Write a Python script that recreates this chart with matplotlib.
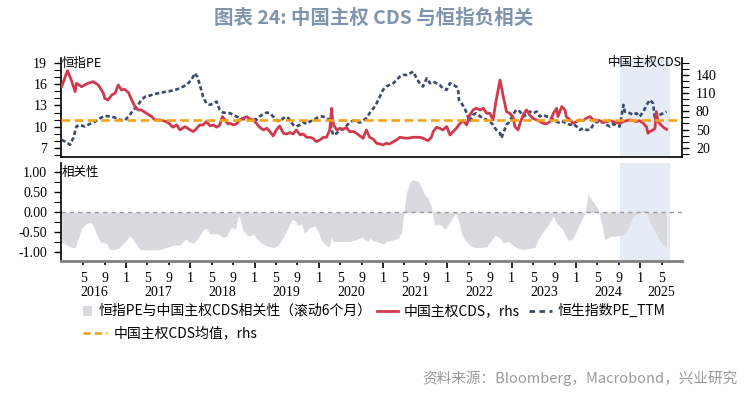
import numpy as np
import matplotlib
matplotlib.use("Agg")
import matplotlib.pyplot as plt
import matplotlib.transforms as mtransforms
from matplotlib.lines import Line2D
from matplotlib.patches import Rectangle
from matplotlib.ticker import MultipleLocator, FormatStrFormatter

plt.rcParams['font.family'] = ['Noto Sans CJK SC', 'DejaVu Sans']
plt.rcParams['axes.unicode_minus'] = False

# =======================
# DATA (time in decimal years)
# =======================
CDS_T = [2016.00, 2016.09, 2016.14, 2016.21, 2016.23, 2016.31, 2016.41, 2016.49, 2016.57, 2016.65,
         2016.67, 2016.72, 2016.78, 2016.83, 2016.88, 2016.93, 2016.98, 2017.04, 2017.09, 2017.14,
         2017.19, 2017.24, 2017.32, 2017.40, 2017.45, 2017.53, 2017.63, 2017.68, 2017.73, 2017.79,
         2017.84, 2017.92, 2018.00, 2018.05, 2018.10, 2018.15, 2018.20, 2018.25, 2018.31, 2018.36,
         2018.41, 2018.46, 2018.50, 2018.54, 2018.59, 2018.62, 2018.67, 2018.72, 2018.77, 2018.82,
         2018.88, 2018.93, 2018.98, 2019.03, 2019.08, 2019.14, 2019.19, 2019.24, 2019.29, 2019.34,
         2019.39, 2019.45, 2019.50, 2019.55, 2019.60, 2019.65, 2019.71, 2019.76, 2019.81, 2019.86,
         2019.91, 2019.96, 2020.02, 2020.07, 2020.12, 2020.17, 2020.20, 2020.21, 2020.23, 2020.28,
         2020.33, 2020.38, 2020.43, 2020.48, 2020.54, 2020.59, 2020.64, 2020.69, 2020.74, 2020.79,
         2020.85, 2020.90, 2020.95, 2021.00, 2021.05, 2021.10, 2021.16, 2021.21, 2021.26, 2021.37,
         2021.47, 2021.57, 2021.62, 2021.70, 2021.75, 2021.78, 2021.83, 2021.88, 2021.93, 2021.99,
         2022.04, 2022.09, 2022.14, 2022.19, 2022.25, 2022.30, 2022.35, 2022.40, 2022.45, 2022.51,
         2022.56, 2022.61, 2022.66, 2022.71, 2022.76, 2022.79, 2022.82, 2022.84, 2022.87, 2022.92,
         2022.97, 2023.02, 2023.05, 2023.10, 2023.13, 2023.18, 2023.23, 2023.28, 2023.33, 2023.39,
         2023.44, 2023.49, 2023.54, 2023.60, 2023.65, 2023.70, 2023.72, 2023.78, 2023.83, 2023.85,
         2023.91, 2023.96, 2024.01, 2024.06, 2024.11, 2024.16, 2024.22, 2024.27, 2024.32, 2024.37,
         2024.42, 2024.48, 2024.53, 2024.58, 2024.63, 2024.68, 2024.74, 2024.79, 2024.84, 2024.89,
         2024.94, 2024.99, 2025.05, 2025.10, 2025.12, 2025.15, 2025.20, 2025.23, 2025.25, 2025.28,
         2025.30, 2025.36, 2025.41]
CDS_V = [120.7, 147.1, 134.5, 112.5, 126.3, 120.7, 126.3, 129.0, 123.5, 109.8,
         101.6, 98.8, 107.0, 109.8, 123.5, 115.3, 116.4, 110.9, 98.8, 87.8,
         82.3, 82.3, 76.9, 71.3, 65.8, 65.8, 63.0, 59.2, 53.8, 57.6,
         49.3, 54.8, 49.3, 46.6, 52.1, 57.6, 57.6, 63.0, 56.0, 57.6,
         53.8, 57.6, 71.3, 65.8, 59.2, 60.3, 57.6, 59.2, 65.8, 68.5,
         71.3, 66.9, 65.8, 60.3, 53.7, 49.3, 52.1, 46.6, 39.4, 49.3,
         55.9, 43.8, 42.7, 44.9, 42.7, 49.3, 41.1, 42.7, 37.2, 37.2,
         35.6, 30.1, 32.8, 37.2, 37.2, 49.3, 85.0, 71.3, 57.6, 49.3,
         52.1, 50.4, 53.2, 46.6, 46.6, 43.8, 39.4, 35.6, 49.3, 37.2,
         33.9, 27.3, 26.2, 24.6, 27.3, 26.2, 30.1, 32.8, 37.2, 35.6,
         37.2, 37.2, 35.6, 31.7, 37.2, 46.6, 53.7, 52.1, 49.3, 54.8,
         41.1, 46.6, 52.1, 59.2, 64.7, 57.6, 74.1, 82.3, 85.1, 82.3,
         85.1, 76.8, 76.8, 65.8, 98.8, 115.3, 131.8, 120.8, 104.4, 79.5,
         76.8, 71.3, 54.8, 49.3, 60.3, 74.1, 82.3, 74.1, 68.6, 65.8,
         63.1, 60.3, 59.2, 63.1, 76.8, 85.0, 71.3, 87.8, 82.3, 71.3,
         65.8, 60.3, 63.1, 65.8, 64.7, 68.6, 71.3, 65.8, 65.8, 64.7,
         61.4, 63.1, 64.7, 63.1, 61.4, 60.3, 63.1, 64.7, 65.8, 64.7,
         63.1, 64.7, 60.3, 53.7, 43.8, 46.6, 49.3, 52.1, 79.5, 63.1,
         60.3, 53.7, 50.4]

PE_T = [2016.00, 2016.08, 2016.13, 2016.18, 2016.23, 2016.28, 2016.36, 2016.44, 2016.52, 2016.60,
        2016.67, 2016.75, 2016.83, 2016.91, 2016.98, 2017.04, 2017.11, 2017.19, 2017.24, 2017.30,
        2017.37, 2017.45, 2017.56, 2017.63, 2017.73, 2017.84, 2017.94, 2018.02, 2018.07, 2018.11,
        2018.15, 2018.20, 2018.25, 2018.31, 2018.36, 2018.41, 2018.46, 2018.51, 2018.62, 2018.67,
        2018.72, 2018.77, 2018.88, 2018.93, 2018.98, 2019.03, 2019.08, 2019.14, 2019.19, 2019.24,
        2019.29, 2019.34, 2019.39, 2019.45, 2019.50, 2019.55, 2019.60, 2019.65, 2019.71, 2019.76,
        2019.81, 2019.86, 2019.91, 2019.96, 2020.02, 2020.07, 2020.12, 2020.17, 2020.22, 2020.28,
        2020.33, 2020.38, 2020.43, 2020.48, 2020.54, 2020.59, 2020.64, 2020.69, 2020.74, 2020.79,
        2020.85, 2020.90, 2020.95, 2021.00, 2021.05, 2021.10, 2021.16, 2021.21, 2021.26, 2021.31,
        2021.37, 2021.47, 2021.52, 2021.57, 2021.62, 2021.68, 2021.73, 2021.78, 2021.83, 2021.88,
        2021.93, 2021.99, 2022.04, 2022.09, 2022.14, 2022.17, 2022.18, 2022.22, 2022.27, 2022.30,
        2022.35, 2022.40, 2022.45, 2022.51, 2022.56, 2022.61, 2022.66, 2022.71, 2022.76, 2022.82,
        2022.84, 2022.87, 2022.92, 2022.97, 2023.02, 2023.07, 2023.13, 2023.18, 2023.23, 2023.28,
        2023.33, 2023.39, 2023.44, 2023.49, 2023.54, 2023.60, 2023.65, 2023.70, 2023.75, 2023.80,
        2023.85, 2023.91, 2023.96, 2024.01, 2024.06, 2024.11, 2024.16, 2024.22, 2024.27, 2024.32,
        2024.37, 2024.42, 2024.48, 2024.53, 2024.58, 2024.63, 2024.68, 2024.74, 2024.76, 2024.79,
        2024.84, 2024.89, 2024.94, 2024.99, 2025.05, 2025.10, 2025.15, 2025.20, 2025.23, 2025.25,
        2025.30, 2025.36, 2025.41]
PE_V = [8.15, 7.78, 7.45, 8.40, 10.03, 10.27, 10.03, 10.41, 10.73, 11.21,
        11.54, 11.44, 11.30, 10.97, 10.87, 11.44, 12.28, 13.08, 13.79, 14.25,
        14.40, 14.63, 14.82, 14.96, 15.10, 15.43, 15.90, 16.60, 17.55, 17.07,
        15.90, 14.25, 13.32, 13.08, 13.32, 13.55, 12.38, 12.00, 11.91, 11.67,
        11.44, 11.20, 10.97, 10.97, 11.20, 10.97, 11.44, 11.82, 12.00, 11.91,
        11.44, 10.97, 10.74, 11.20, 11.44, 10.97, 10.27, 10.03, 10.27, 10.60,
        10.41, 10.74, 10.88, 11.20, 11.44, 11.44, 11.20, 10.97, 8.86, 9.09,
        9.56, 9.66, 10.13, 10.60, 10.88, 10.74, 10.60, 10.88, 11.20, 11.91,
        12.61, 13.32, 14.26, 15.20, 15.67, 15.90, 16.14, 16.60, 17.07, 17.31,
        17.31, 17.78, 16.84, 16.14, 15.67, 16.84, 16.14, 16.37, 16.14, 15.90,
        15.43, 15.20, 16.14, 15.90, 15.67, 14.96, 13.79, 13.32, 12.61, 11.91,
        10.74, 11.67, 11.91, 11.44, 11.20, 10.97, 10.74, 10.27, 9.56, 9.09,
        8.39, 9.09, 10.27, 10.74, 11.67, 12.38, 12.14, 11.44, 11.67, 12.14,
        11.91, 12.14, 11.44, 11.67, 11.44, 11.44, 10.97, 10.74, 10.50, 10.74,
        10.50, 10.27, 10.41, 10.03, 9.56, 9.80, 9.56, 9.56, 10.27, 10.74,
        10.50, 10.74, 10.27, 10.03, 10.41, 10.13, 10.03, 13.08, 12.14, 12.14,
        11.91, 11.67, 11.91, 11.44, 12.14, 13.08, 13.79, 13.32, 10.97, 11.44,
        11.67, 11.91, 12.14]

CORR_T = [2016.00, 2016.08, 2016.16, 2016.21, 2016.26, 2016.31, 2016.39, 2016.44, 2016.49, 2016.54,
          2016.60, 2016.65, 2016.70, 2016.75, 2016.80, 2016.88, 2016.96, 2017.01, 2017.06, 2017.11,
          2017.17, 2017.22, 2017.32, 2017.43, 2017.53, 2017.63, 2017.74, 2017.84, 2017.92, 2017.97,
          2018.05, 2018.12, 2018.20, 2018.25, 2018.31, 2018.36, 2018.41, 2018.46, 2018.51, 2018.57,
          2018.64, 2018.70, 2018.75, 2018.77, 2018.82, 2018.88, 2018.93, 2018.98, 2019.03, 2019.11,
          2019.19, 2019.29, 2019.37, 2019.45, 2019.52, 2019.58, 2019.63, 2019.68, 2019.73, 2019.78,
          2019.84, 2019.89, 2019.94, 2019.99, 2020.04, 2020.11, 2020.16, 2020.20, 2020.22, 2020.33,
          2020.48, 2020.59, 2020.67, 2020.72, 2020.77, 2020.79, 2020.85, 2020.90, 2021.00, 2021.05,
          2021.16, 2021.24, 2021.29, 2021.32, 2021.36, 2021.42, 2021.47, 2021.55, 2021.60, 2021.65,
          2021.70, 2021.75, 2021.78, 2021.81, 2021.86, 2021.91, 2021.96, 2022.01, 2022.06, 2022.13,
          2022.17, 2022.22, 2022.27, 2022.35, 2022.43, 2022.51, 2022.61, 2022.69, 2022.74, 2022.82,
          2022.87, 2022.95, 2023.02, 2023.08, 2023.18, 2023.28, 2023.36, 2023.41, 2023.49, 2023.57,
          2023.65, 2023.70, 2023.78, 2023.83, 2023.88, 2023.93, 2023.98, 2024.06, 2024.14, 2024.19,
          2024.24, 2024.29, 2024.35, 2024.40, 2024.45, 2024.53, 2024.63, 2024.73, 2024.81, 2024.89,
          2024.97, 2025.05, 2025.10, 2025.15, 2025.23, 2025.30, 2025.36, 2025.41]
CORR_V = [-0.73, -0.82, -0.88, -0.88, -0.65, -0.40, -0.28, -0.25, -0.32, -0.53,
          -0.73, -0.76, -0.78, -0.93, -0.93, -0.90, -0.78, -0.69, -0.59, -0.68,
          -0.82, -0.93, -0.94, -0.94, -0.93, -0.88, -0.82, -0.82, -0.68, -0.73,
          -0.78, -0.65, -0.44, -0.40, -0.54, -0.54, -0.53, -0.57, -0.63, -0.59,
          -0.36, -0.43, -0.07, -0.15, -0.44, -0.57, -0.59, -0.54, -0.65, -0.78,
          -0.84, -0.88, -0.82, -0.61, -0.40, -0.18, -0.21, -0.34, -0.28, -0.53,
          -0.40, -0.36, -0.34, -0.48, -0.69, -0.82, -0.86, -0.61, -0.73, -0.73,
          -0.73, -0.68, -0.61, -0.69, -0.73, -0.65, -0.71, -0.73, -0.79, -0.73,
          -0.69, -0.65, -0.48, -0.03, 0.47, 0.77, 0.81, 0.77, 0.60, 0.43,
          0.35, 0.14, -0.19, -0.32, -0.30, -0.32, -0.43, -0.32, -0.19, -0.03,
          -0.19, -0.53, -0.69, -0.82, -0.88, -0.88, -0.86, -0.69, -0.57, -0.65,
          -0.76, -0.73, -0.82, -0.88, -0.93, -0.90, -0.88, -0.69, -0.48, -0.32,
          -0.09, -0.28, -0.40, -0.57, -0.69, -0.69, -0.57, -0.28, -0.03, 0.47,
          0.31, 0.22, 0.06, -0.28, -0.69, -0.61, -0.59, -0.57, -0.40, -0.11,
          -0.01, 0.07, -0.03, -0.23, -0.48, -0.69, -0.82, -0.83]

CDS_MEAN = 66.0
SHADE = (2024.69, 2025.46)

TITLE = "图表 24: 中国主权 CDS 与恒指负相关"
SOURCE = "资料来源：Bloomberg，Macrobond，兴业研究"
LEG_CORR = "恒指PE与中国主权CDS相关性（滚动6个月）"
LEG_CDS = "中国主权CDS，rhs"
LEG_PE = "恒生指数PE_TTM"
LEG_MEAN = "中国主权CDS均值，rhs"

# =======================
# STYLE
# =======================
RED = "#d13a4d"
NAVY = "#3b4b6b"
ORANGE = "#f5a31c"
GREY_FILL = "#d9d9de"
SHADE_C = "#e5ecf5"
TITLE_C = "#8094ad"
SERIF = "Liberation Serif"
W, H = 755, 393
XMIN, XMAX = 2015.99, 2025.65


def fx(x):
    return x / W


def fy(y):
    return 1 - y / H


fig = plt.figure(figsize=(W / 100, H / 100), dpi=100)

ax = fig.add_axes([fx(61), fy(157), (682 - 61) / W, (157 - 58) / H])
ax2 = ax.twinx()
axc = fig.add_axes([fx(61), fy(260.7), (682 - 61) / W, (260.7 - 163) / H])

# ---- top panel
ax.axvspan(*SHADE, color=SHADE_C, lw=0, zorder=0)
ax.plot(PE_T, PE_V, color=NAVY, lw=1.9, ls=(0, (1.6, 1.0)), zorder=2)
ax2.plot(CDS_T, CDS_V, color=RED, lw=2.0, zorder=2)
ax2.axhline(CDS_MEAN, color=ORANGE, lw=1.9, ls=(0, (3.3, 1.7)), zorder=3)

ax.set_xlim(XMIN, XMAX)
ax.set_ylim(5.73, 19.7)
ax2.set_ylim(4.7, 168)
ax.set_yticks([7, 10, 13, 16, 19])
ax.yaxis.set_minor_locator(MultipleLocator(1))
ax2.set_yticks([20, 50, 80, 110, 140])
ax2.yaxis.set_minor_locator(MultipleLocator(10))

for a in (ax, ax2):
    a.spines['top'].set_visible(False)
    for s in a.spines.values():
        s.set_linewidth(1.2)
ax.spines['right'].set_visible(False)
ax2.spines['left'].set_visible(False)
ax2.spines['bottom'].set_visible(False)
ax.tick_params(axis='x', bottom=False, labelbottom=False)
ax.tick_params(axis='y', which='major', length=5, width=1, pad=5,
               labelsize=10, labelfontfamily=SERIF)
ax.tick_params(axis='y', which='minor', length=5, width=0.8)
ax2.tick_params(axis='y', which='major', length=5, width=1, pad=5,
                labelsize=10, labelfontfamily=SERIF)
ax2.tick_params(axis='y', which='minor', length=5, width=0.8)

# ---- correlation panel
axc.axvspan(*SHADE, color=SHADE_C, lw=0, zorder=0)
axc.fill_between(CORR_T, CORR_V, 0, color=GREY_FILL, lw=0, zorder=1)
axc.axhline(0, color="#9a9a9a", lw=1, ls=(0, (3, 3)), zorder=2)
axc.set_xlim(XMIN, XMAX)
axc.set_ylim(-1.21, 1.23)
axc.set_yticks([-1, -0.5, 0, 0.5, 1])
axc.yaxis.set_major_formatter(FormatStrFormatter('%.2f'))
axc.yaxis.set_minor_locator(MultipleLocator(0.25))
axc.spines['top'].set_visible(False)
axc.spines['right'].set_visible(False)
axc.spines['left'].set_linewidth(1.2)
axc.spines['bottom'].set_linewidth(2)
axc.spines['bottom'].set_color("#808080")
axc.tick_params(axis='y', which='major', length=5, width=1, pad=5,
                labelsize=10, labelfontfamily=SERIF)
axc.tick_params(axis='y', which='minor', length=5, width=0.8)

years = list(range(2016, 2026))
jan_ticks = [y for y in years if y > 2016]
mid_ticks, mid_labels = [], []
for y in years:
    for m in (5, 9):
        t = y + (m - 1) / 12
        if t < XMAX:
            mid_ticks.append(t)
            mid_labels.append(str(m))
axc.set_xticks(jan_ticks)
axc.set_xticklabels(["1"] * len(jan_ticks))
axc.set_xticks(mid_ticks, minor=True)
axc.set_xticklabels(mid_labels, minor=True)
axc.tick_params(axis='x', which='major', length=5, width=1.2, pad=3,
                labelsize=10, labelfontfamily=SERIF)
axc.tick_params(axis='x', which='minor', length=3, width=1.2, pad=5.2,
                labelsize=10, labelfontfamily=SERIF)
trans = mtransforms.blended_transform_factory(axc.transData, axc.transAxes)
for y in years:
    cx = y + 0.5 if y < 2025 else (y + XMAX) / 2
    axc.text(cx, -0.33, str(y), transform=trans, ha='center', va='center',
             fontsize=10, family=SERIF)

# ---- in-panel labels
fig.text(fx(62), fy(63), "恒指PE", ha='left', va='center', fontsize=9)
fig.text(fx(682), fy(62), "中国主权CDS", ha='right', va='center', fontsize=9)
fig.text(fx(62), fy(172), "相关性", ha='left', va='center', fontsize=9)

# ---- title & source
fig.text(0.495, fy(18), TITLE, ha='center', va='center', fontsize=14,
         fontweight='bold', color=TITLE_C)
fig.text(fx(738), fy(378), SOURCE, ha='right', va='center', fontsize=10.5,
         color="#9a9a9a")

# ---- legend (drawn by hand to keep the reference layout)
ly1, ly2 = 311, 333
fig.add_artist(Rectangle((fx(83), fy(ly1 + 5)), 9 / W, 10 / H,
                         transform=fig.transFigure, color=GREY_FILL, lw=0))
fig.text(fx(99), fy(ly1), LEG_CORR, ha='left', va='center', fontsize=10)
fig.add_artist(Line2D([fx(377), fx(398)], [fy(ly1)] * 2, transform=fig.transFigure,
                      color=RED, lw=2))
fig.text(fx(404), fy(ly1), LEG_CDS, ha='left', va='center', fontsize=10)
fig.add_artist(Line2D([fx(529), fx(552)], [fy(ly1)] * 2, transform=fig.transFigure,
                      color=NAVY, lw=2, ls=(0, (2.0, 1.6))))
fig.text(fx(558), fy(ly1), LEG_PE, ha='left', va='center', fontsize=10)
fig.add_artist(Line2D([fx(83), fx(107)], [fy(ly2)] * 2, transform=fig.transFigure,
                      color=ORANGE, lw=2, ls=(0, (2.5, 1.6))))
fig.text(fx(114), fy(ly2), LEG_MEAN, ha='left', va='center', fontsize=10)

fig.savefig("out.png", dpi=100)
